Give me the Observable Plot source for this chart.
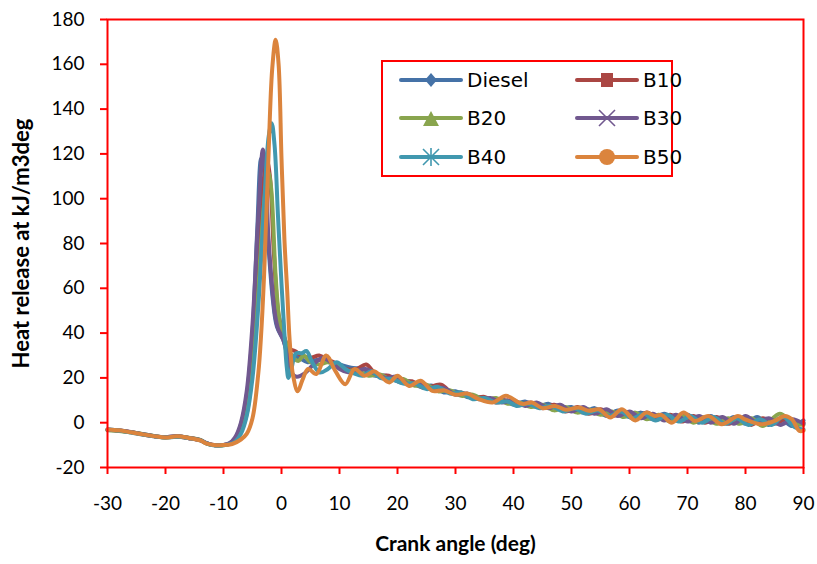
<!DOCTYPE html>
<html><head><meta charset="utf-8">
<script src="https://cdn.jsdelivr.net/npm/d3@7"></script>
<script src="https://cdn.jsdelivr.net/npm/@observablehq/plot@0.6"></script>
<style>
body{margin:0;background:#fff;}
#wrap{position:relative;width:817px;height:564px;}
#legend{position:absolute;left:0;top:0;pointer-events:none;}
</style></head><body>
<div id="wrap"><div id="chart"></div><svg id="legend" width="817" height="564"></svg></div>
<script>
const seriesNames = ["Diesel","B10","B20","B30","B40","B50"];
const seriesColors = ["#4572A7","#AA4643","#89A54E","#71588F","#4198AF","#DB843D"];
const xTicks = [-30,-20,-10,0,10,20,30,40,50,60,70,80,90];
const yTicks = [-20,0,20,40,60,80,100,120,140,160,180];

// [crank angle (deg), heat release]
const diesel = [[-30,-3],[-28,-3.5],[-26,-4.2],[-24,-5.1],[-22,-6],[-20,-6.5],[-18,-6.1],[-16,-6.8],[-14,-7.8],[-13,-9],[-12,-9.9],[-10,-10],
 [-9,-9.3],[-8,-7],[-7,-1],[-6,12],[-5,40],[-4.2,85],[-3.5,118],[-3,112],[-2.4,85],[-1.5,55],[-0.8,43],[0.3,37],[1,32],[1.8,30],[3,29],[4.5,27],[6,28],[8,27.5],
 [10,26],[12,24.5],[14,24],[16,21],[18,21],[20,18.5],[22,18.5],[24,16],[26,16.5],[28,13.5],[30,14],[32,11.5],[34,11.5],[36,9.5],[38,10.5],[40,8],[42,9.5],[44,7],[46,8.5],[48,6],[50,7],[52,4.5],[54,6.5],[56,3],[58,5.5],[60,2.5],[62,4.5],[64,1.5],[66,4],[68,1],[70,3.5],[72,0],[74,3],[76,-0.5],[78,2.5],[80,-0.5],[82,2.5],[84,-1],[86,2],[88,-1.5],[90,1]];
const b10 = [[-30,-3.2],[-28,-3.6],[-26,-4.1],[-24,-5.2],[-22,-6.1],[-20,-6.4],[-18,-6.2],[-16,-6.9],[-14,-7.9],[-13,-9.1],[-12,-9.8],[-10,-10],
 [-9,-9.5],[-8,-7.5],[-7,-3],[-6,7],[-5,30],[-4,70],[-3.2,105],[-2.5,117],[-2,110],[-1.3,75],[-0.5,48],[0.5,38],[1.3,33],[2.3,32],[3.5,30],[5,29],[6.5,30],[8,28],
 [9,27],[11,24],[13,24],[14.6,26],[16.5,21],[18.5,21],[20.5,18],[22.5,18.5],[24.5,15.5],[27.5,17],[29.5,13],[31,13.5],[33,11],[35,11.5],[37,9],[39,10],[41,8],[43,9],[45,6.5],[47,8],[49,5],[51,7],[53,4],[55,6],[57,3],[59,5],[61,2],[63,4.5],[65,1.5],[67,3.5],[69,0.5],[71,3],[73,0],[75,2.5],[77,-0.5],[79,2],[81,-1],[83,2],[85,-0.5],[87,1.5],[89,-1],[90,0]];
const b20 = [[-30,-3.4],[-28,-3.7],[-26,-4.3],[-24,-5],[-22,-5.9],[-20,-6.6],[-18,-6.2],[-16,-6.7],[-14,-7.7],[-13,-9.2],[-12,-9.9],[-10,-10.1],
 [-9,-9.5],[-8,-8],[-7,-4],[-6,4],[-5,24],[-4,60],[-3,98],[-2.3,112],[-1.8,105],[-1,65],[-0.3,45],[0.6,37],[1.5,31],[2.9,27.6],[3.8,30],[5,27],[6.5,26],[8,27],
 [9.5,25.5],[11,23],[13,23.5],[15,21],[17,21.5],[19,19],[21,19.5],[23,16.5],[25,17],[27,14],[29,14.5],[31,12],[33,12.5],[35,10],[37,11],[39,8.5],[41,9],[43,7],[45,8],[47,5.5],[49,7],[51,4.5],[53,6],[55,3.5],[57,5],[59,2.5],[61,4.5],[63,1.5],[65,3.5],[67,0.5],[69,3],[71,0],[73,2.5],[75,-0.5],[77,2],[79,-0.5],[81,2],[83,-1.5],[85.9,4],[88,0.5],[90,-1]];
const b30 = [[-30,-3.1],[-28,-3.4],[-26,-4.2],[-24,-5.1],[-22,-6],[-20,-6.5],[-18,-6.1],[-16,-6.8],[-14,-7.8],[-13,-9],[-12,-9.8],[-10,-9.9],
 [-9,-9.2],[-8,-6.5],[-7,0],[-6,14],[-5,44],[-4,92],[-3.2,122],[-2.7,112],[-2.3,85],[-1.6,60],[-1.1,48],[-0.6,42],[0.3,37],[1,30],[1.8,22],[2.6,20.5],[4,22],[5.5,26],[7.1,29],[8.5,27],
 [10,24],[11.5,22.5],[13,23],[14.5,24],[16,22],[18,20],[20,20.5],[22,17],[24,17.5],[26,15],[28,15.5],[30,12.5],[32,13],[34,10.5],[36,11],[38,9],[40,10],[42,7.5],[44,9],[46,6.5],[48,8],[50,5],[52,7],[54,4],[56,6],[58,3],[60,5],[62,2],[64,4],[66,1],[68,3.5],[70,0.5],[72,3],[74,0],[76,2.5],[78,-0.5],[80,3],[82,0],[84,2],[86,-1],[88,1.5],[90,-0.5]];
const b40 = [[-30,-3],[-28,-3.5],[-26,-4.4],[-24,-5.3],[-22,-6.1],[-20,-6.6],[-18,-6.3],[-16,-6.9],[-14,-7.9],[-13,-9.1],[-12,-10],[-10,-10.1],
 [-9,-9.6],[-8,-8.5],[-7,-5],[-6,3],[-5,20],[-4,52],[-3,97],[-2.2,128],[-1.7,133.7],[-1.2,124],[-0.6,92],[0,62],[0.5,40],[0.9,25],[1.2,20],[1.7,24],[2.5,31],[3.5,31],[4.3,32],[5.3,27],[6.6,22.4],[8,24],[9.5,27],[11,24],[12.5,22],[14,21],[15.5,23],[17,20],
 [19,19.5],[21,17.5],[23,17.5],[25,15],[27,16],[29,13],[31,13.5],[33,10.5],[35,11],[37,9],[39,9.5],[40.5,7.5],[42.5,8.5],[44.5,6.5],[46.5,7.5],[48.5,5],[50.5,6.5],[52.5,4],[54.5,5.5],[56.5,3],[58.5,5],[60.5,2],[62.5,4],[64.5,1],[66.5,3.5],[68.5,0.5],[70.5,3],[72.5,0],[74.5,2.5],[76.5,-0.5],[78.5,2],[80.5,-1],[82.5,1.5],[84.5,-1],[86.5,2.5],[88.5,-2],[90,-3]];
const b50 = [[-30,-3],[-28,-3.4],[-26,-4.3],[-24,-5.2],[-22,-6],[-20,-6.6],[-18,-6.1],[-16,-6.8],[-14,-7.9],[-13,-9.2],[-12,-9.8],[-10,-10],
 [-8.5,-9.5],[-7,-7.5],[-6,-5],[-5,2],[-4,22],[-3.5,40],[-3,66],[-2.3,115],[-1.6,158],[-1,171],[-0.5,160],[0,118],[0.5,82],[1,58],[1.4,37],[2,21],[2.8,14],[3.6,19],[4.6,24],[6,21.7],[7.7,30],[9.3,23],[11,17.2],[12.6,24],[14.3,21],[16,23],[17,21],[18.6,18],[20,21],[22,16.4],[24,18.7],[26,14.2],
 [28,14.5],[30,12.5],[32,13],[34,10.5],[36.4,9],[38.7,12],[41.5,8.4],[43.2,9],[45,6.5],[47.2,7.5],[49,5.8],[51.3,6.8],[53,5.3],[54.7,6],[56.7,2.3],[58.7,6],[61,1],[62.9,4.5],[64.4,3],[65.5,3.5],[67.3,0],[69.3,4.5],[71.3,0.8],[73.6,3],[75.9,-0.7],[78.7,3],[79.9,1.5],[82.7,-0.7],[85,0.8],[86.8,3],[88,1.5],[89.3,-3.7],[90,-3.5]];

const allSeries = [diesel,b10,b20,b30,b40,b50];
const rows = [];
allSeries.forEach((arr,i) => arr.forEach(([a,v]) => rows.push({series:seriesNames[i], angle:a, value:v})));

const fmt = d => String(d);
const chart = Plot.plot({
  width:817, height:564,
  marginLeft:107, marginRight:14, marginTop:19, marginBottom:97,
  style:{fontFamily:"Lato, sans-serif", fontSize:"19px", color:"black", background:"white"},
  x:{domain:[-30,90], ticks:xTicks, label:null},
  y:{domain:[-20,180], ticks:yTicks, label:null},
  color:{domain:seriesNames, range:seriesColors},
  marks:[
    Plot.line(rows,{x:"angle", y:"value", z:"series", stroke:"series", strokeWidth:4, curve:"catmull-rom"}),
    Plot.frame({stroke:"red", strokeWidth:2}),
    Plot.axisX(xTicks,{stroke:"red", fill:"black", strokeWidth:2, tickSize:7, tickPadding:22, fontSize:19, tickFormat:fmt}),
    Plot.axisY(yTicks,{stroke:"red", fill:"black", strokeWidth:2, tickSize:7, tickPadding:16, fontSize:19, tickFormat:fmt}),
    Plot.text(["Heat release at kJ/m3deg"],{text:d=>d, frameAnchor:"left", dx:-86, rotate:-90, textAnchor:"middle", fontWeight:"bold", fontSize:22}),
    Plot.text(["Crank angle (deg)"],{text:d=>d, frameAnchor:"bottom", dy:83, textAnchor:"middle", fontWeight:"bold", fontSize:21})
  ]
});
document.getElementById("chart").appendChild(chart);

// legend overlay
const lg = d3.select("#legend");
lg.append("rect").attr("x",382).attr("y",61).attr("width",290).attr("height",115)
  .attr("fill","white").attr("stroke","red").attr("stroke-width",2);
const pos = [[401,80],[577,80],[401,118],[577,118],[401,157],[577,157]];
seriesNames.forEach((name,i) => {
  const [x0,y] = pos[i], c = seriesColors[i], cx = x0 + 30;
  const g = lg.append("g");
  g.append("line").attr("x1",x0).attr("x2",x0+60).attr("y1",y).attr("y2",y)
    .attr("stroke",c).attr("stroke-width",4).attr("stroke-linecap","round");
  if (i===0) g.append("path").attr("d",`M${cx},${y-7}L${cx+6},${y}L${cx},${y+7}L${cx-6},${y}Z`).attr("fill",c);
  if (i===1) g.append("rect").attr("x",cx-6).attr("y",y-7).attr("width",12).attr("height",14).attr("fill",c);
  if (i===2) g.append("path").attr("d",`M${cx},${y-7}L${cx+8},${y+8}L${cx-8},${y+8}Z`).attr("fill",c);
  if (i===3) g.append("path").attr("d",`M${cx-8},${y-8}L${cx+8},${y+8}M${cx-8},${y+8}L${cx+8},${y-8}`).attr("stroke",c).attr("stroke-width",1.6);
  if (i===4) g.append("path").attr("d",`M${cx-8},${y-8}L${cx+8},${y+8}M${cx-8},${y+8}L${cx+8},${y-8}M${cx},${y-9}L${cx},${y+9}`).attr("stroke",c).attr("stroke-width",1.6);
  if (i===5) g.append("circle").attr("cx",cx).attr("cy",y).attr("r",8).attr("fill",c);
  g.append("text").attr("x",x0+66).attr("y",y).attr("dy","0.36em")
    .attr("font-family","'DejaVu Sans', sans-serif").attr("font-size",20).attr("fill","black").text(name);
});
</script>
</body></html>
